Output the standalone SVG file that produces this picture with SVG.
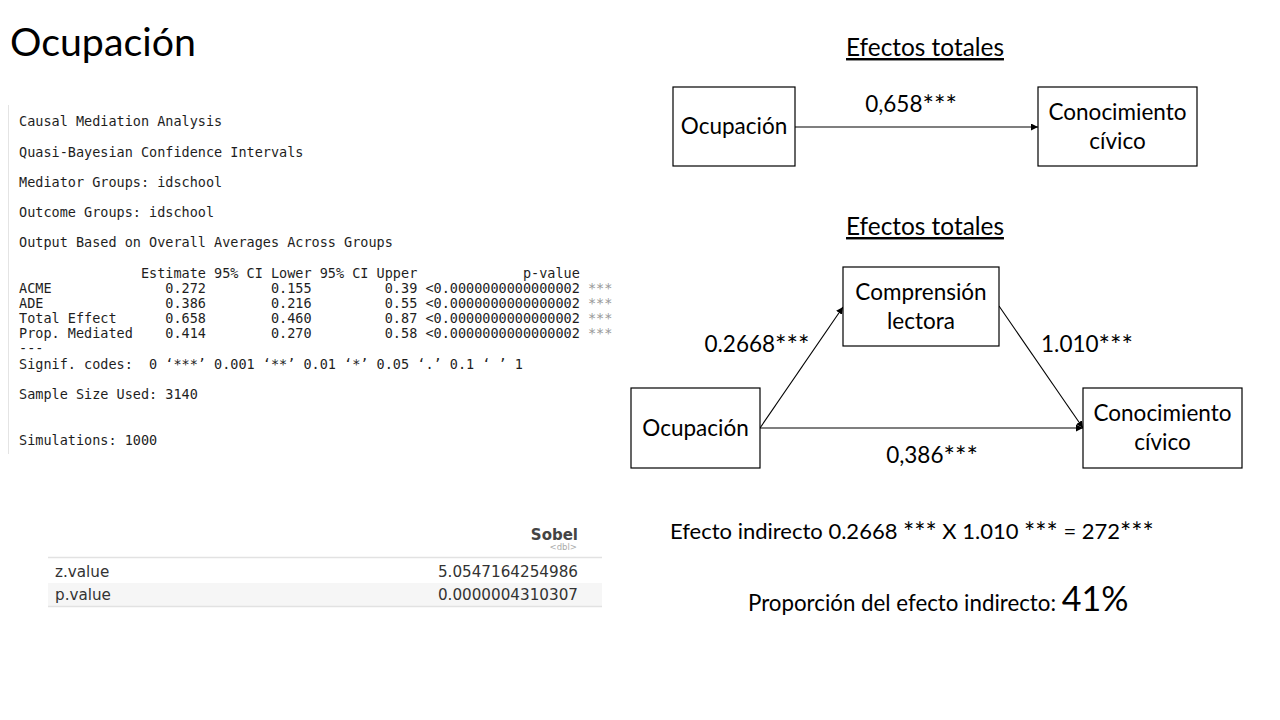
<svg xmlns="http://www.w3.org/2000/svg" width="1280" height="720" viewBox="0 0 1280 720">
<defs>
<marker id="ah" viewBox="0 0 10 10" refX="10" refY="5" markerWidth="7" markerHeight="7" markerUnits="userSpaceOnUse" orient="auto">
<path d="M0,0 L10,5 L0,10 z" fill="#000"/>
</marker>
</defs>
<style>
.cal{font-family:Lato,"Liberation Sans",sans-serif;fill:#000}
.mono{font-family:"DejaVu Sans Mono","Liberation Mono",monospace;font-size:13.5px;fill:#1e1e1e;white-space:pre}
.tbl{font-family:"DejaVu Sans","Liberation Sans",sans-serif;font-size:15.2px;fill:#333}
.box{fill:#fff;stroke:#000;stroke-width:1.2}
.lbl{font-size:22.5px;text-anchor:middle}
.conn{stroke:#000;stroke-width:1.1;fill:none;marker-end:url(#ah)}
.star{fill:#999}
.st{font-size:1.2em;baseline-shift:-2.5px}
</style>
<rect width="1280" height="720" fill="#fff"/>
<text class="cal" x="10" y="56" font-size="39.3">Ocupación</text>

<g id="console">
<line x1="8.5" y1="105" x2="8.5" y2="454" stroke="#e4e4e4" stroke-width="1"/>
<text class="mono" x="19" y="126" xml:space="preserve">Causal Mediation Analysis</text>
<text class="mono" x="19" y="157" xml:space="preserve">Quasi-Bayesian Confidence Intervals</text>
<text class="mono" x="19" y="187" xml:space="preserve">Mediator Groups: idschool</text>
<text class="mono" x="19" y="217" xml:space="preserve">Outcome Groups: idschool</text>
<text class="mono" x="19" y="247" xml:space="preserve">Output Based on Overall Averages Across Groups</text>
<text class="mono" x="19" y="278" xml:space="preserve">               Estimate 95% CI Lower 95% CI Upper             p-value</text>
<text class="mono" x="19" y="293" xml:space="preserve">ACME              0.272        0.155         0.39 &lt;0.0000000000000002 <tspan class="star">***</tspan></text>
<text class="mono" x="19" y="308" xml:space="preserve">ADE               0.386        0.216         0.55 &lt;0.0000000000000002 <tspan class="star">***</tspan></text>
<text class="mono" x="19" y="323" xml:space="preserve">Total Effect      0.658        0.460         0.87 &lt;0.0000000000000002 <tspan class="star">***</tspan></text>
<text class="mono" x="19" y="338" xml:space="preserve">Prop. Mediated    0.414        0.270         0.58 &lt;0.0000000000000002 <tspan class="star">***</tspan></text>
<text class="mono" x="19" y="353" xml:space="preserve">---</text>
<text class="mono" x="19" y="369" xml:space="preserve">Signif. codes:  0 ‘***’ 0.001 ‘**’ 0.01 ‘*’ 0.05 ‘.’ 0.1 ‘ ’ 1</text>
<text class="mono" x="19" y="399" xml:space="preserve">Sample Size Used: 3140</text>
<text class="mono" x="19" y="445" xml:space="preserve">Simulations: 1000</text>
</g>

<g id="sobel">
<text x="578" y="540" text-anchor="end" font-family="'DejaVu Sans','Liberation Sans',sans-serif" font-size="15" font-weight="bold" fill="#444">Sobel</text>
<text x="577" y="550" text-anchor="end" font-family="'DejaVu Sans','Liberation Sans',sans-serif" font-size="8.5" fill="#aaa">&lt;dbl&gt;</text>
<line x1="48" y1="557.5" x2="602" y2="557.5" stroke="#e2e2e2" stroke-width="1.5"/>
<rect x="48" y="583" width="554" height="23" fill="#f6f6f6"/>
<line x1="48" y1="606.5" x2="602" y2="606.5" stroke="#e2e2e2" stroke-width="1.5"/>
<text class="tbl" x="55" y="577">z.value</text>
<text class="tbl" x="578" y="577" text-anchor="end">5.0547164254986</text>
<text class="tbl" x="55" y="600">p.value</text>
<text class="tbl" x="578" y="600" text-anchor="end">0.0000004310307</text>
</g>

<g id="connectors">
<line class="conn" x1="795" y1="127" x2="1038" y2="127"/>
<line class="conn" x1="760" y1="428" x2="843" y2="307"/>
<line class="conn" x1="999" y1="306" x2="1083" y2="428"/>
<line class="conn" x1="760" y1="428" x2="1083" y2="428"/>
</g>

<g id="title1">
<text class="cal" x="925" y="56" font-size="24.4" text-anchor="middle" text-decoration="underline">Efectos totales</text>
</g>
<g id="n-ocupacion1">
<rect class="box" x="673" y="87" width="122" height="79"/>
<text class="cal lbl" x="734" y="134">Ocupación</text>
</g>
<g id="n-conocimiento1">
<rect class="box" x="1038" y="87" width="159" height="79"/>
<text class="cal lbl" x="1117.5" y="120">Conocimiento</text>
<text class="cal lbl" x="1117.5" y="149">cívico</text>
</g>
<text class="cal lbl" x="911" y="112">0,658<tspan class="st">***</tspan></text>

<g id="title2">
<text class="cal" x="925" y="235" font-size="24.4" text-anchor="middle" text-decoration="underline">Efectos totales</text>
</g>
<g id="n-comprension">
<rect class="box" x="843" y="267" width="156" height="79"/>
<text class="cal lbl" x="921" y="300">Comprensión</text>
<text class="cal lbl" x="921" y="329">lectora</text>
</g>
<g id="n-ocupacion2">
<rect class="box" x="631" y="388" width="129" height="80"/>
<text class="cal lbl" x="695.5" y="436">Ocupación</text>
</g>
<g id="n-conocimiento2">
<rect class="box" x="1083" y="388" width="159" height="80"/>
<text class="cal lbl" x="1162.5" y="421">Conocimiento</text>
<text class="cal lbl" x="1162.5" y="450">cívico</text>
</g>
<text class="cal lbl" x="757" y="352">0.2668<tspan class="st">***</tspan></text>
<text class="cal lbl" x="1087" y="352">1.010<tspan class="st">***</tspan></text>
<text class="cal lbl" x="932" y="463">0,386<tspan class="st">***</tspan></text>

<text class="cal" x="670" y="539" font-size="22">Efecto indirecto 0.2668 <tspan class="st">***</tspan> X 1.010 <tspan class="st">***</tspan> = 272<tspan class="st">***</tspan></text>
<text class="cal" x="748" y="611" font-size="22.3">Proporción del efecto indirecto: <tspan font-size="34">41%</tspan></text>
</svg>
